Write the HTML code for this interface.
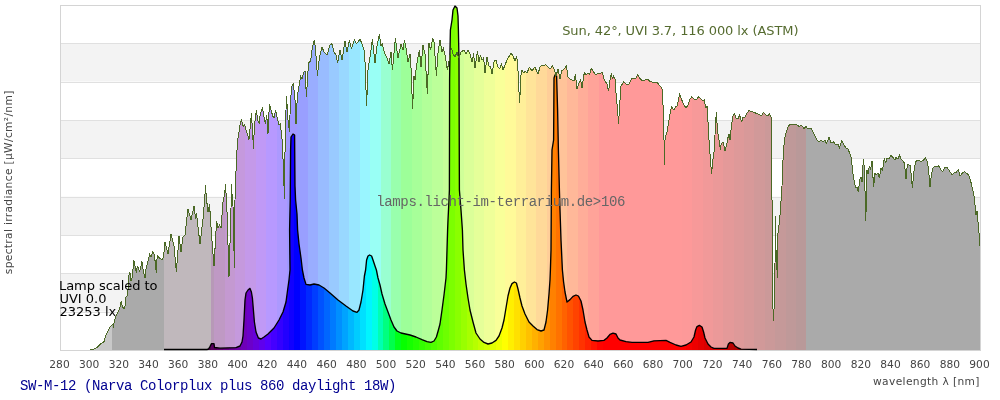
<!DOCTYPE html>
<html><head><meta charset="utf-8"><title>Spectrum SW-M-12</title>
<style>html,body{margin:0;padding:0;background:#fff}body{width:1000px;height:400px;overflow:hidden}</style></head>
<body>
<svg width="1000" height="400" viewBox="0 0 1000 400" style="display:block">
<rect width="1000" height="400" fill="#fff"/>
<rect x="60" y="5.00" width="920" height="38.33" fill="#ffffff"/>
<rect x="60" y="43.33" width="920" height="38.33" fill="#f3f3f3"/>
<rect x="60" y="81.67" width="920" height="38.33" fill="#ffffff"/>
<rect x="60" y="120.00" width="920" height="38.33" fill="#f3f3f3"/>
<rect x="60" y="158.33" width="920" height="38.33" fill="#ffffff"/>
<rect x="60" y="196.67" width="920" height="38.33" fill="#f3f3f3"/>
<rect x="60" y="235.00" width="920" height="38.33" fill="#ffffff"/>
<rect x="60" y="273.33" width="920" height="38.33" fill="#f3f3f3"/>
<rect x="60" y="311.67" width="920" height="38.33" fill="#ffffff"/>
<line x1="60" y1="43.5" x2="980" y2="43.5" stroke="#e0e0e0" stroke-width="1"/>
<line x1="60" y1="82.5" x2="980" y2="82.5" stroke="#e0e0e0" stroke-width="1"/>
<line x1="60" y1="120.5" x2="980" y2="120.5" stroke="#e0e0e0" stroke-width="1"/>
<line x1="60" y1="158.5" x2="980" y2="158.5" stroke="#e0e0e0" stroke-width="1"/>
<line x1="60" y1="197.5" x2="980" y2="197.5" stroke="#e0e0e0" stroke-width="1"/>
<line x1="60" y1="235.5" x2="980" y2="235.5" stroke="#e0e0e0" stroke-width="1"/>
<line x1="60" y1="273.5" x2="980" y2="273.5" stroke="#e0e0e0" stroke-width="1"/>
<line x1="60" y1="312.5" x2="980" y2="312.5" stroke="#e0e0e0" stroke-width="1"/>
<rect x="60.5" y="5.5" width="920" height="345" fill="none" stroke="#d4d4d4" stroke-width="1"/>
<defs><clipPath id="cs"><polygon points="89.7,350.0 92.8,349.8 97.0,347.6 100.6,344.0 104.2,341.4 105.4,336.8 106.6,333.8 108.4,330.2 110.2,326.6 111.6,325.4 112.8,324.2 113.6,327.2 114.4,320.0 116.0,316.4 117.4,313.4 118.6,311.0 119.8,308.0 120.6,303.2 121.4,301.5 122.2,306.2 124.0,309.2 125.2,305.6 126.0,297.0 127.0,295.8 128.0,289.8 128.4,279.0 129.4,272.4 130.6,274.8 131.0,280.8 132.0,277.8 133.0,269.4 133.8,260.0 134.6,263.4 135.4,268.2 136.4,273.0 137.2,266.4 138.4,268.2 139.6,271.8 140.8,267.0 142.0,261.6 143.2,270.6 144.4,276.0 145.0,277.8 146.0,269.4 147.4,263.4 148.6,258.6 149.6,254.0 151.0,257.0 153.0,251.6 154.6,256.0 155.6,267.0 156.4,273.0 157.0,258.6 157.6,256.0 159.6,258.0 162.4,260.0 163.6,256.0 165.0,242.0 168.0,254.0 171.0,234.0 174.0,246.0 176.4,272.0 179.0,236.0 181.0,252.0 183.0,237.0 185.0,235.0 188.0,209.0 191.0,220.0 194.0,206.0 195.6,219.0 196.4,213.0 200.0,244.0 203.0,219.0 204.6,200.0 205.5,186.0 206.6,200.0 208.0,212.0 209.6,205.0 211.6,236.0 214.0,266.0 216.6,221.0 218.0,228.0 219.6,225.0 221.0,228.0 222.0,215.0 223.0,202.0 224.5,195.0 225.5,185.0 226.5,200.0 227.0,212.0 229.0,277.0 230.4,230.0 231.0,208.0 231.5,185.0 232.4,200.0 233.0,206.0 234.4,268.0 235.0,200.0 235.5,172.0 236.4,169.6 237.0,150.0 238.0,138.0 238.5,135.0 240.0,125.0 241.5,119.5 242.5,124.0 243.5,127.0 244.5,124.5 246.0,130.0 248.0,136.0 248.8,140.0 249.5,135.0 250.5,123.0 251.5,114.0 252.0,123.0 252.8,135.0 253.4,149.0 254.0,135.0 254.8,123.0 255.5,116.0 256.5,111.0 257.2,116.5 258.0,121.0 259.2,123.5 260.0,116.0 261.2,111.0 262.5,108.0 263.5,114.0 264.5,119.0 265.5,124.0 266.5,115.5 267.2,120.0 268.0,134.0 268.5,120.0 269.5,105.0 270.5,108.0 271.5,112.0 273.0,116.5 274.0,118.0 275.5,111.0 276.5,114.0 277.5,119.0 278.5,123.0 279.2,125.0 280.2,123.5 281.0,130.0 281.8,135.0 282.6,150.0 283.6,172.0 284.4,199.0 284.8,172.0 285.2,135.0 285.5,123.0 286.5,97.0 287.2,107.0 288.0,120.0 288.7,125.0 289.5,132.0 290.0,115.0 290.5,100.0 292.0,86.0 293.4,83.6 295.0,100.0 296.0,124.0 297.4,95.0 299.0,86.0 300.6,76.0 302.0,79.0 303.4,73.0 305.0,71.0 306.5,97.0 307.4,80.0 308.6,63.0 310.6,61.0 312.6,46.0 314.4,40.0 315.6,50.0 317.4,76.0 319.4,57.0 322.0,47.0 324.0,52.0 327.0,55.0 330.0,45.0 332.0,43.6 334.0,52.0 336.0,55.0 337.6,63.0 340.0,50.0 342.0,60.0 345.0,41.0 347.0,52.0 349.4,40.0 351.4,49.0 354.4,39.4 356.4,44.0 360.0,39.0 362.0,44.0 364.0,50.0 365.0,62.0 366.6,106.0 368.0,70.0 370.0,57.0 372.4,39.4 375.0,63.0 377.0,46.0 379.4,34.4 381.0,46.0 382.4,44.0 384.4,53.0 387.0,58.0 389.0,64.0 391.0,52.0 392.4,70.0 395.4,38.4 398.0,58.0 401.0,44.0 403.0,50.0 404.4,40.0 406.0,48.0 408.0,62.0 410.0,54.0 411.0,68.0 412.6,109.0 414.0,76.0 415.0,80.0 416.0,70.0 418.0,57.0 419.4,50.0 421.0,67.0 423.0,45.0 425.0,54.0 427.4,94.0 429.0,43.0 430.6,50.0 432.6,38.4 434.0,42.0 436.4,76.0 438.0,53.0 440.0,40.0 442.0,52.0 443.4,48.0 445.0,55.0 447.4,70.0 450.0,55.0 451.4,48.0 453.0,54.0 455.0,57.0 457.0,52.0 458.6,58.0 461.0,52.0 464.0,50.0 466.0,54.0 468.0,50.0 470.0,54.0 472.0,62.0 473.6,54.0 475.0,68.0 477.4,51.0 479.0,62.0 480.4,55.0 482.0,60.0 483.6,58.0 485.0,73.0 487.0,57.0 489.0,66.0 490.6,67.0 492.0,74.0 494.4,60.0 496.0,60.0 498.0,67.0 499.6,69.0 501.4,64.0 503.0,70.0 507.0,60.0 511.0,53.0 513.0,56.0 515.0,61.0 516.6,57.0 517.6,62.0 518.4,80.0 519.6,103.0 521.0,75.0 522.0,70.0 523.6,73.0 525.0,71.0 527.0,73.0 529.4,67.0 532.0,71.0 535.0,67.0 537.0,72.0 538.0,74.0 540.0,67.0 542.0,65.0 544.0,66.0 545.6,64.4 548.0,67.0 550.0,69.0 552.4,66.0 554.4,70.0 556.0,76.0 558.0,69.0 560.0,79.0 561.6,71.0 564.0,69.0 566.4,66.0 568.0,77.0 570.0,79.0 572.0,80.0 574.0,81.0 575.4,74.0 577.0,89.0 579.0,83.0 580.6,80.0 582.0,88.0 584.4,72.0 586.0,75.0 588.0,73.0 589.6,75.0 591.4,68.0 593.6,72.0 595.6,75.0 598.0,73.0 600.0,74.0 602.0,72.0 604.4,80.0 607.0,84.0 608.6,91.0 610.0,80.0 611.4,73.0 612.4,79.0 613.6,76.0 615.0,79.0 616.4,98.0 617.6,110.0 618.6,123.6 619.6,106.0 621.0,86.0 623.6,82.0 627.0,85.0 629.0,84.0 631.6,78.4 634.0,79.0 636.0,78.0 637.6,74.4 640.0,78.4 642.4,81.0 645.0,80.0 648.0,79.6 650.0,81.6 652.4,82.0 655.0,83.0 657.4,82.4 659.0,85.0 661.0,87.0 662.4,90.0 663.2,110.0 664.0,140.0 664.4,165.0 665.0,140.0 665.6,136.0 667.0,132.0 669.0,120.0 670.4,112.0 671.6,107.0 673.6,110.0 675.6,107.0 677.0,106.0 678.4,100.0 679.6,93.6 681.0,98.0 683.0,103.0 685.6,107.6 687.6,106.0 689.6,100.0 691.4,97.0 694.0,99.0 696.0,100.0 698.4,97.0 701.0,99.0 703.0,101.0 704.4,100.0 705.6,108.0 707.0,106.0 708.0,122.0 709.0,140.0 710.4,160.0 711.6,174.0 712.8,160.0 714.0,152.0 715.0,135.0 715.4,126.0 716.4,112.0 717.4,130.0 719.0,140.0 720.4,150.0 721.0,145.0 722.0,143.0 723.0,142.0 724.4,147.0 725.0,151.0 726.0,147.0 727.0,143.0 727.6,139.0 729.0,134.0 730.0,140.0 731.6,124.0 733.0,116.0 734.4,113.0 736.0,118.0 738.0,119.0 739.6,115.0 741.6,122.0 743.0,117.0 745.0,117.0 747.0,113.0 749.0,110.6 752.0,111.6 754.0,112.4 757.0,113.6 760.0,115.0 762.0,115.0 763.6,112.4 765.6,115.0 767.6,115.6 769.6,114.0 771.0,117.0 771.6,130.0 772.0,200.0 772.6,300.0 773.6,321.0 774.4,298.0 775.0,265.0 775.4,216.0 775.8,262.0 776.6,250.0 777.2,278.0 777.8,235.0 779.6,220.0 780.4,210.0 782.0,186.0 783.0,160.0 784.4,139.0 786.0,133.0 788.0,127.0 790.0,124.4 793.0,124.0 796.4,124.4 799.0,126.4 801.6,125.6 804.0,128.4 806.0,126.4 808.0,129.0 811.0,128.4 814.0,134.0 817.0,140.0 819.0,141.6 821.0,140.0 823.0,141.6 825.0,140.0 826.4,144.0 829.0,137.0 831.0,143.0 833.6,142.0 836.0,145.0 838.0,144.0 839.6,148.0 841.6,140.4 844.0,145.0 846.0,148.0 848.0,149.0 850.0,154.0 851.4,158.0 852.4,170.0 854.0,180.0 855.6,188.0 857.0,187.0 858.4,192.0 859.6,180.0 861.0,177.0 862.0,182.0 863.4,159.0 864.4,168.0 865.8,221.0 867.0,170.0 868.0,174.0 869.4,166.0 870.4,170.0 872.0,161.0 873.6,187.0 875.0,173.0 876.4,175.0 878.0,173.0 879.4,178.0 881.0,168.0 882.4,171.0 884.4,158.0 885.6,163.0 887.0,158.0 889.0,159.0 891.0,155.6 893.0,157.6 895.0,160.0 896.0,157.6 898.0,159.0 899.4,155.0 901.0,159.0 903.0,161.0 904.4,163.0 906.0,179.0 907.4,164.0 909.0,165.0 910.4,165.0 911.4,178.0 912.4,188.0 913.6,174.0 915.6,161.6 918.0,160.0 920.0,161.0 922.4,161.0 925.4,158.0 927.4,161.6 928.6,170.0 930.0,187.0 931.4,174.0 933.0,168.0 935.0,166.0 937.0,167.0 938.4,165.6 940.6,169.0 942.4,172.0 944.4,168.0 947.0,167.6 949.0,170.0 952.0,175.0 954.0,173.0 956.0,172.4 958.4,169.6 960.0,176.0 962.4,173.0 964.4,171.6 967.0,173.6 968.8,175.0 971.0,182.5 973.8,194.0 975.0,205.0 976.0,215.0 977.0,211.0 978.0,222.0 978.8,228.0 979.5,245.0 980.0,246.0 980.0,350.0 89.7,350.0"/></clipPath><clipPath id="cl"><polygon points="164.0,349.5 207.0,349.5 208.5,349.0 210.0,346.5 211.5,343.6 214.0,343.6 214.5,347.5 220.0,348.2 236.0,347.6 240.0,346.0 242.0,342.0 243.0,336.0 244.0,320.0 245.0,300.0 246.0,293.0 248.0,290.0 250.0,288.4 251.4,292.0 252.4,298.0 253.4,310.0 254.4,322.0 256.0,332.0 258.4,338.0 261.0,339.0 264.0,337.0 268.0,334.0 274.0,328.0 279.0,320.0 283.0,312.0 286.0,302.0 287.6,290.0 289.0,280.0 290.0,270.0 289.6,230.0 290.2,200.0 290.6,150.0 291.0,137.0 293.0,134.0 294.6,135.0 295.0,186.0 295.6,200.0 297.0,214.0 297.6,230.0 299.0,244.0 301.0,258.0 302.4,270.0 304.0,278.0 306.0,284.4 310.0,285.0 314.0,284.0 319.0,285.0 324.0,288.0 330.0,293.0 338.0,300.0 346.0,306.0 353.0,311.0 357.0,312.4 359.0,310.0 361.0,302.0 363.0,290.0 364.4,276.0 365.6,270.0 366.0,266.0 366.6,260.0 368.0,256.0 369.6,255.0 371.6,256.0 373.0,260.0 375.0,266.0 376.4,270.0 378.0,278.0 380.0,285.0 382.0,294.0 385.0,304.0 388.0,312.0 391.0,320.0 394.0,327.0 397.0,331.0 401.0,333.0 410.0,335.0 416.0,337.0 422.0,339.6 427.0,341.6 431.0,342.4 434.0,341.0 436.4,337.0 438.4,330.0 440.0,324.0 442.0,310.0 444.0,295.0 446.0,278.0 446.4,270.0 447.0,250.0 447.6,230.0 448.0,220.0 449.0,200.0 449.4,190.0 449.6,80.0 450.0,50.0 450.4,30.0 452.0,20.0 453.0,10.0 455.0,6.0 457.0,8.0 458.0,16.0 458.4,30.0 459.0,60.0 459.4,190.0 461.0,210.0 462.4,230.0 463.0,250.0 464.4,270.0 466.0,284.0 468.0,298.0 470.0,310.0 473.0,322.0 476.0,333.0 480.0,339.0 484.0,342.4 488.0,344.0 492.0,343.0 496.0,340.4 499.0,336.0 502.0,328.0 504.0,320.0 506.0,308.0 508.0,296.0 510.0,288.0 512.0,283.6 514.4,282.0 516.4,283.0 518.0,289.0 520.0,298.0 522.0,306.0 525.0,314.0 529.0,322.0 533.0,326.0 537.0,329.6 541.0,331.0 544.0,330.0 546.0,322.0 547.6,310.0 549.0,294.0 550.0,280.0 550.4,270.0 551.0,250.0 551.4,190.0 552.0,150.0 553.6,140.0 553.8,110.0 554.0,78.0 555.0,75.0 556.6,76.0 557.6,110.0 558.4,150.0 559.4,190.0 560.0,210.0 561.0,240.0 562.4,270.0 563.6,282.0 565.0,292.0 567.0,302.0 570.0,299.6 573.0,296.4 576.0,295.0 578.4,296.0 581.0,301.0 583.0,310.0 585.0,322.0 587.0,330.0 589.0,337.0 592.0,340.4 598.0,341.0 604.0,340.4 607.0,338.0 610.0,334.4 613.0,333.2 616.0,334.0 618.0,338.0 620.0,340.0 626.0,341.6 632.0,342.4 648.0,342.4 654.0,340.8 666.0,340.4 670.0,342.4 676.0,345.0 681.0,346.4 686.0,345.0 691.0,342.0 694.0,337.0 695.6,330.0 697.0,326.6 699.4,325.4 702.0,327.0 703.6,332.0 705.0,338.0 708.0,344.0 711.0,347.0 714.0,348.4 727.0,348.4 728.4,344.0 730.0,342.4 733.0,343.0 735.0,346.0 738.0,348.0 741.0,349.2 757.0,349.5 757.0,350.0 164.0,350.0"/></clipPath></defs>
<g clip-path="url(#cs)" shape-rendering="crispEdges">
<rect x="60.00" y="5" width="51.94" height="345" fill="#c8c8c8"/>
<rect x="111.94" y="5" width="51.94" height="345" fill="#aaaaaa"/>
<rect x="163.87" y="5" width="47.48" height="345" fill="#c0b8bc"/>
<rect x="211.35" y="5" width="3.47" height="345" fill="#b799b7"/>
<rect x="214.32" y="5" width="10.89" height="345" fill="#bf99c4"/>
<rect x="224.71" y="5" width="10.89" height="345" fill="#c499d1"/>
<rect x="235.10" y="5" width="10.89" height="345" fill="#c599dd"/>
<rect x="245.48" y="5" width="10.89" height="345" fill="#c499e9"/>
<rect x="255.87" y="5" width="10.89" height="345" fill="#c099f6"/>
<rect x="266.26" y="5" width="10.89" height="345" fill="#b799ff"/>
<rect x="276.65" y="5" width="10.89" height="345" fill="#ac99ff"/>
<rect x="287.03" y="5" width="10.89" height="345" fill="#a099ff"/>
<rect x="297.42" y="5" width="10.89" height="345" fill="#999fff"/>
<rect x="307.81" y="5" width="10.89" height="345" fill="#99adff"/>
<rect x="318.19" y="5" width="10.89" height="345" fill="#99bcff"/>
<rect x="328.58" y="5" width="10.89" height="345" fill="#99caff"/>
<rect x="338.97" y="5" width="10.89" height="345" fill="#99d8ff"/>
<rect x="349.35" y="5" width="10.89" height="345" fill="#99e7ff"/>
<rect x="359.74" y="5" width="10.89" height="345" fill="#99f5ff"/>
<rect x="370.13" y="5" width="10.89" height="345" fill="#99fff5"/>
<rect x="380.52" y="5" width="10.89" height="345" fill="#99ffd1"/>
<rect x="390.90" y="5" width="10.89" height="345" fill="#99ffad"/>
<rect x="401.29" y="5" width="10.89" height="345" fill="#9dff99"/>
<rect x="411.68" y="5" width="10.89" height="345" fill="#a7ff99"/>
<rect x="422.06" y="5" width="10.89" height="345" fill="#b2ff99"/>
<rect x="432.45" y="5" width="10.89" height="345" fill="#bcff99"/>
<rect x="442.84" y="5" width="10.89" height="345" fill="#c6ff99"/>
<rect x="453.23" y="5" width="10.89" height="345" fill="#d0ff99"/>
<rect x="463.61" y="5" width="10.89" height="345" fill="#dbff99"/>
<rect x="474.00" y="5" width="10.89" height="345" fill="#e5ff99"/>
<rect x="484.39" y="5" width="10.89" height="345" fill="#efff99"/>
<rect x="494.77" y="5" width="10.89" height="345" fill="#f9ff99"/>
<rect x="505.16" y="5" width="10.89" height="345" fill="#fffa99"/>
<rect x="515.55" y="5" width="10.89" height="345" fill="#ffef99"/>
<rect x="525.94" y="5" width="10.89" height="345" fill="#ffe499"/>
<rect x="536.32" y="5" width="10.89" height="345" fill="#ffd999"/>
<rect x="546.71" y="5" width="10.89" height="345" fill="#ffce99"/>
<rect x="557.10" y="5" width="10.89" height="345" fill="#ffc399"/>
<rect x="567.48" y="5" width="10.89" height="345" fill="#ffb899"/>
<rect x="577.87" y="5" width="10.89" height="345" fill="#ffad99"/>
<rect x="588.26" y="5" width="10.89" height="345" fill="#ffa399"/>
<rect x="598.65" y="5" width="10.89" height="345" fill="#ff9999"/>
<rect x="609.03" y="5" width="10.89" height="345" fill="#ff9999"/>
<rect x="619.42" y="5" width="10.89" height="345" fill="#ff9999"/>
<rect x="629.81" y="5" width="10.89" height="345" fill="#ff9999"/>
<rect x="640.19" y="5" width="10.89" height="345" fill="#ff9999"/>
<rect x="650.58" y="5" width="10.89" height="345" fill="#ff9999"/>
<rect x="660.97" y="5" width="10.89" height="345" fill="#ff9999"/>
<rect x="671.35" y="5" width="10.89" height="345" fill="#ff9999"/>
<rect x="681.74" y="5" width="10.89" height="345" fill="#fd9999"/>
<rect x="692.13" y="5" width="10.89" height="345" fill="#f79999"/>
<rect x="702.52" y="5" width="10.89" height="345" fill="#f19999"/>
<rect x="712.90" y="5" width="10.89" height="345" fill="#eb9999"/>
<rect x="723.29" y="5" width="10.89" height="345" fill="#e49999"/>
<rect x="733.68" y="5" width="10.89" height="345" fill="#de9999"/>
<rect x="744.06" y="5" width="10.89" height="345" fill="#d89999"/>
<rect x="754.45" y="5" width="10.89" height="345" fill="#d19999"/>
<rect x="764.84" y="5" width="10.89" height="345" fill="#cb9999"/>
<rect x="775.23" y="5" width="10.89" height="345" fill="#c59999"/>
<rect x="785.61" y="5" width="10.89" height="345" fill="#bf9999"/>
<rect x="796.00" y="5" width="10.89" height="345" fill="#b99999"/>
<rect x="806.39" y="5" width="173.61" height="345" fill="#aaaaaa"/>
</g>
<g clip-path="url(#cl)" shape-rendering="crispEdges">
<rect x="163.87" y="5" width="41.55" height="345" fill="#000000"/>
<rect x="205.42" y="5" width="6.44" height="345" fill="#4c004c"/>
<rect x="211.35" y="5" width="6.44" height="345" fill="#58005e"/>
<rect x="217.29" y="5" width="6.44" height="345" fill="#610070"/>
<rect x="223.23" y="5" width="6.44" height="345" fill="#680082"/>
<rect x="229.16" y="5" width="6.44" height="345" fill="#6c0094"/>
<rect x="235.10" y="5" width="6.44" height="345" fill="#6e00a6"/>
<rect x="241.03" y="5" width="6.44" height="345" fill="#6e00b8"/>
<rect x="246.97" y="5" width="6.44" height="345" fill="#6b00c9"/>
<rect x="252.90" y="5" width="6.44" height="345" fill="#6600db"/>
<rect x="258.84" y="5" width="6.44" height="345" fill="#5f00ed"/>
<rect x="264.77" y="5" width="6.44" height="345" fill="#5500ff"/>
<rect x="270.71" y="5" width="6.44" height="345" fill="#4400ff"/>
<rect x="276.65" y="5" width="6.44" height="345" fill="#3300ff"/>
<rect x="282.58" y="5" width="6.44" height="345" fill="#2200ff"/>
<rect x="288.52" y="5" width="6.44" height="345" fill="#1100ff"/>
<rect x="294.45" y="5" width="6.44" height="345" fill="#0000ff"/>
<rect x="300.39" y="5" width="6.44" height="345" fill="#0014ff"/>
<rect x="306.32" y="5" width="6.44" height="345" fill="#0029ff"/>
<rect x="312.26" y="5" width="6.44" height="345" fill="#003dff"/>
<rect x="318.19" y="5" width="6.44" height="345" fill="#0052ff"/>
<rect x="324.13" y="5" width="6.44" height="345" fill="#0066ff"/>
<rect x="330.06" y="5" width="6.44" height="345" fill="#007aff"/>
<rect x="336.00" y="5" width="6.44" height="345" fill="#008fff"/>
<rect x="341.94" y="5" width="6.44" height="345" fill="#00a3ff"/>
<rect x="347.87" y="5" width="6.44" height="345" fill="#00b8ff"/>
<rect x="353.81" y="5" width="6.44" height="345" fill="#00ccff"/>
<rect x="359.74" y="5" width="6.44" height="345" fill="#00e0ff"/>
<rect x="365.68" y="5" width="6.44" height="345" fill="#00f5ff"/>
<rect x="371.61" y="5" width="6.44" height="345" fill="#00ffe6"/>
<rect x="377.55" y="5" width="6.44" height="345" fill="#00ffb2"/>
<rect x="383.48" y="5" width="6.44" height="345" fill="#00ff80"/>
<rect x="389.42" y="5" width="6.44" height="345" fill="#00ff4c"/>
<rect x="395.35" y="5" width="6.44" height="345" fill="#00ff1a"/>
<rect x="401.29" y="5" width="6.44" height="345" fill="#07ff00"/>
<rect x="407.23" y="5" width="6.44" height="345" fill="#16ff00"/>
<rect x="413.16" y="5" width="6.44" height="345" fill="#24ff00"/>
<rect x="419.10" y="5" width="6.44" height="345" fill="#33ff00"/>
<rect x="425.03" y="5" width="6.44" height="345" fill="#42ff00"/>
<rect x="430.97" y="5" width="6.44" height="345" fill="#50ff00"/>
<rect x="436.90" y="5" width="6.44" height="345" fill="#5fff00"/>
<rect x="442.84" y="5" width="6.44" height="345" fill="#6dff00"/>
<rect x="448.77" y="5" width="6.44" height="345" fill="#7cff00"/>
<rect x="454.71" y="5" width="6.44" height="345" fill="#8aff00"/>
<rect x="460.65" y="5" width="6.44" height="345" fill="#99ff00"/>
<rect x="466.58" y="5" width="6.44" height="345" fill="#a8ff00"/>
<rect x="472.52" y="5" width="6.44" height="345" fill="#b6ff00"/>
<rect x="478.45" y="5" width="6.44" height="345" fill="#c5ff00"/>
<rect x="484.39" y="5" width="6.44" height="345" fill="#d3ff00"/>
<rect x="490.32" y="5" width="6.44" height="345" fill="#e2ff00"/>
<rect x="496.26" y="5" width="6.44" height="345" fill="#f0ff00"/>
<rect x="502.19" y="5" width="6.44" height="345" fill="#ffff00"/>
<rect x="508.13" y="5" width="6.44" height="345" fill="#ffef00"/>
<rect x="514.06" y="5" width="6.44" height="345" fill="#ffe000"/>
<rect x="520.00" y="5" width="6.44" height="345" fill="#ffd000"/>
<rect x="525.94" y="5" width="6.44" height="345" fill="#ffc000"/>
<rect x="531.87" y="5" width="6.44" height="345" fill="#ffb100"/>
<rect x="537.81" y="5" width="6.44" height="345" fill="#ffa100"/>
<rect x="543.74" y="5" width="6.44" height="345" fill="#ff9100"/>
<rect x="549.68" y="5" width="6.44" height="345" fill="#ff8100"/>
<rect x="555.61" y="5" width="6.44" height="345" fill="#ff7200"/>
<rect x="561.55" y="5" width="6.44" height="345" fill="#ff6200"/>
<rect x="567.48" y="5" width="6.44" height="345" fill="#ff5200"/>
<rect x="573.42" y="5" width="6.44" height="345" fill="#ff4300"/>
<rect x="579.35" y="5" width="6.44" height="345" fill="#ff3300"/>
<rect x="585.29" y="5" width="6.44" height="345" fill="#ff2300"/>
<rect x="591.23" y="5" width="6.44" height="345" fill="#ff1400"/>
<rect x="597.16" y="5" width="6.44" height="345" fill="#ff0400"/>
<rect x="603.10" y="5" width="6.44" height="345" fill="#ff0000"/>
<rect x="609.03" y="5" width="6.44" height="345" fill="#ff0000"/>
<rect x="614.97" y="5" width="6.44" height="345" fill="#ff0000"/>
<rect x="620.90" y="5" width="6.44" height="345" fill="#ff0000"/>
<rect x="626.84" y="5" width="6.44" height="345" fill="#ff0000"/>
<rect x="632.77" y="5" width="6.44" height="345" fill="#ff0000"/>
<rect x="638.71" y="5" width="6.44" height="345" fill="#ff0000"/>
<rect x="644.65" y="5" width="6.44" height="345" fill="#ff0000"/>
<rect x="650.58" y="5" width="6.44" height="345" fill="#ff0000"/>
<rect x="656.52" y="5" width="6.44" height="345" fill="#ff0000"/>
<rect x="662.45" y="5" width="6.44" height="345" fill="#ff0000"/>
<rect x="668.39" y="5" width="6.44" height="345" fill="#ff0000"/>
<rect x="674.32" y="5" width="6.44" height="345" fill="#ff0000"/>
<rect x="680.26" y="5" width="6.44" height="345" fill="#ff0000"/>
<rect x="686.19" y="5" width="6.44" height="345" fill="#f60000"/>
<rect x="692.13" y="5" width="6.44" height="345" fill="#ed0000"/>
<rect x="698.06" y="5" width="6.44" height="345" fill="#e40000"/>
<rect x="704.00" y="5" width="6.44" height="345" fill="#db0000"/>
<rect x="709.94" y="5" width="6.44" height="345" fill="#d20000"/>
<rect x="715.87" y="5" width="6.44" height="345" fill="#c90000"/>
<rect x="721.81" y="5" width="6.44" height="345" fill="#c10000"/>
<rect x="727.74" y="5" width="6.44" height="345" fill="#b80000"/>
<rect x="733.68" y="5" width="6.44" height="345" fill="#af0000"/>
<rect x="739.61" y="5" width="6.44" height="345" fill="#a60000"/>
<rect x="745.55" y="5" width="6.44" height="345" fill="#9d0000"/>
<rect x="751.48" y="5" width="6.44" height="345" fill="#940000"/>
<rect x="757.42" y="5" width="6.44" height="345" fill="#8b0000"/>
<rect x="763.35" y="5" width="6.44" height="345" fill="#820000"/>
<rect x="769.29" y="5" width="6.44" height="345" fill="#790000"/>
<rect x="775.23" y="5" width="6.44" height="345" fill="#700000"/>
<rect x="781.16" y="5" width="6.44" height="345" fill="#670000"/>
<rect x="787.10" y="5" width="6.44" height="345" fill="#5e0000"/>
<rect x="793.03" y="5" width="6.44" height="345" fill="#550000"/>
<rect x="798.97" y="5" width="6.44" height="345" fill="#4c0000"/>
<rect x="804.90" y="5" width="1.98" height="345" fill="#4c0000"/>
</g>
<polyline points="164.0,349.5 207.0,349.5 208.5,349.0 210.0,346.5 211.5,343.6 214.0,343.6 214.5,347.5 220.0,348.2 236.0,347.6 240.0,346.0 242.0,342.0 243.0,336.0 244.0,320.0 245.0,300.0 246.0,293.0 248.0,290.0 250.0,288.4 251.4,292.0 252.4,298.0 253.4,310.0 254.4,322.0 256.0,332.0 258.4,338.0 261.0,339.0 264.0,337.0 268.0,334.0 274.0,328.0 279.0,320.0 283.0,312.0 286.0,302.0 287.6,290.0 289.0,280.0 290.0,270.0 289.6,230.0 290.2,200.0 290.6,150.0 291.0,137.0 293.0,134.0 294.6,135.0 295.0,186.0 295.6,200.0 297.0,214.0 297.6,230.0 299.0,244.0 301.0,258.0 302.4,270.0 304.0,278.0 306.0,284.4 310.0,285.0 314.0,284.0 319.0,285.0 324.0,288.0 330.0,293.0 338.0,300.0 346.0,306.0 353.0,311.0 357.0,312.4 359.0,310.0 361.0,302.0 363.0,290.0 364.4,276.0 365.6,270.0 366.0,266.0 366.6,260.0 368.0,256.0 369.6,255.0 371.6,256.0 373.0,260.0 375.0,266.0 376.4,270.0 378.0,278.0 380.0,285.0 382.0,294.0 385.0,304.0 388.0,312.0 391.0,320.0 394.0,327.0 397.0,331.0 401.0,333.0 410.0,335.0 416.0,337.0 422.0,339.6 427.0,341.6 431.0,342.4 434.0,341.0 436.4,337.0 438.4,330.0 440.0,324.0 442.0,310.0 444.0,295.0 446.0,278.0 446.4,270.0 447.0,250.0 447.6,230.0 448.0,220.0 449.0,200.0 449.4,190.0 449.6,80.0 450.0,50.0 450.4,30.0 452.0,20.0 453.0,10.0 455.0,6.0 457.0,8.0 458.0,16.0 458.4,30.0 459.0,60.0 459.4,190.0 461.0,210.0 462.4,230.0 463.0,250.0 464.4,270.0 466.0,284.0 468.0,298.0 470.0,310.0 473.0,322.0 476.0,333.0 480.0,339.0 484.0,342.4 488.0,344.0 492.0,343.0 496.0,340.4 499.0,336.0 502.0,328.0 504.0,320.0 506.0,308.0 508.0,296.0 510.0,288.0 512.0,283.6 514.4,282.0 516.4,283.0 518.0,289.0 520.0,298.0 522.0,306.0 525.0,314.0 529.0,322.0 533.0,326.0 537.0,329.6 541.0,331.0 544.0,330.0 546.0,322.0 547.6,310.0 549.0,294.0 550.0,280.0 550.4,270.0 551.0,250.0 551.4,190.0 552.0,150.0 553.6,140.0 553.8,110.0 554.0,78.0 555.0,75.0 556.6,76.0 557.6,110.0 558.4,150.0 559.4,190.0 560.0,210.0 561.0,240.0 562.4,270.0 563.6,282.0 565.0,292.0 567.0,302.0 570.0,299.6 573.0,296.4 576.0,295.0 578.4,296.0 581.0,301.0 583.0,310.0 585.0,322.0 587.0,330.0 589.0,337.0 592.0,340.4 598.0,341.0 604.0,340.4 607.0,338.0 610.0,334.4 613.0,333.2 616.0,334.0 618.0,338.0 620.0,340.0 626.0,341.6 632.0,342.4 648.0,342.4 654.0,340.8 666.0,340.4 670.0,342.4 676.0,345.0 681.0,346.4 686.0,345.0 691.0,342.0 694.0,337.0 695.6,330.0 697.0,326.6 699.4,325.4 702.0,327.0 703.6,332.0 705.0,338.0 708.0,344.0 711.0,347.0 714.0,348.4 727.0,348.4 728.4,344.0 730.0,342.4 733.0,343.0 735.0,346.0 738.0,348.0 741.0,349.2 757.0,349.5" fill="none" stroke="#000" stroke-width="1.35" stroke-linejoin="round"/>
<polyline points="89.7,350.0 92.8,349.8 97.0,347.6 100.6,344.0 104.2,341.4 105.4,336.8 106.6,333.8 108.4,330.2 110.2,326.6 111.6,325.4 112.8,324.2 113.6,327.2 114.4,320.0 116.0,316.4 117.4,313.4 118.6,311.0 119.8,308.0 120.6,303.2 121.4,301.5 122.2,306.2 124.0,309.2 125.2,305.6 126.0,297.0 127.0,295.8 128.0,289.8 128.4,279.0 129.4,272.4 130.6,274.8 131.0,280.8 132.0,277.8 133.0,269.4 133.8,260.0 134.6,263.4 135.4,268.2 136.4,273.0 137.2,266.4 138.4,268.2 139.6,271.8 140.8,267.0 142.0,261.6 143.2,270.6 144.4,276.0 145.0,277.8 146.0,269.4 147.4,263.4 148.6,258.6 149.6,254.0 151.0,257.0 153.0,251.6 154.6,256.0 155.6,267.0 156.4,273.0 157.0,258.6 157.6,256.0 159.6,258.0 162.4,260.0 163.6,256.0 165.0,242.0 168.0,254.0 171.0,234.0 174.0,246.0 176.4,272.0 179.0,236.0 181.0,252.0 183.0,237.0 185.0,235.0 188.0,209.0 191.0,220.0 194.0,206.0 195.6,219.0 196.4,213.0 200.0,244.0 203.0,219.0 204.6,200.0 205.5,186.0 206.6,200.0 208.0,212.0 209.6,205.0 211.6,236.0 214.0,266.0 216.6,221.0 218.0,228.0 219.6,225.0 221.0,228.0 222.0,215.0 223.0,202.0 224.5,195.0 225.5,185.0 226.5,200.0 227.0,212.0 229.0,277.0 230.4,230.0 231.0,208.0 231.5,185.0 232.4,200.0 233.0,206.0 234.4,268.0 235.0,200.0 235.5,172.0 236.4,169.6 237.0,150.0 238.0,138.0 238.5,135.0 240.0,125.0 241.5,119.5 242.5,124.0 243.5,127.0 244.5,124.5 246.0,130.0 248.0,136.0 248.8,140.0 249.5,135.0 250.5,123.0 251.5,114.0 252.0,123.0 252.8,135.0 253.4,149.0 254.0,135.0 254.8,123.0 255.5,116.0 256.5,111.0 257.2,116.5 258.0,121.0 259.2,123.5 260.0,116.0 261.2,111.0 262.5,108.0 263.5,114.0 264.5,119.0 265.5,124.0 266.5,115.5 267.2,120.0 268.0,134.0 268.5,120.0 269.5,105.0 270.5,108.0 271.5,112.0 273.0,116.5 274.0,118.0 275.5,111.0 276.5,114.0 277.5,119.0 278.5,123.0 279.2,125.0 280.2,123.5 281.0,130.0 281.8,135.0 282.6,150.0 283.6,172.0 284.4,199.0 284.8,172.0 285.2,135.0 285.5,123.0 286.5,97.0 287.2,107.0 288.0,120.0 288.7,125.0 289.5,132.0 290.0,115.0 290.5,100.0 292.0,86.0 293.4,83.6 295.0,100.0 296.0,124.0 297.4,95.0 299.0,86.0 300.6,76.0 302.0,79.0 303.4,73.0 305.0,71.0 306.5,97.0 307.4,80.0 308.6,63.0 310.6,61.0 312.6,46.0 314.4,40.0 315.6,50.0 317.4,76.0 319.4,57.0 322.0,47.0 324.0,52.0 327.0,55.0 330.0,45.0 332.0,43.6 334.0,52.0 336.0,55.0 337.6,63.0 340.0,50.0 342.0,60.0 345.0,41.0 347.0,52.0 349.4,40.0 351.4,49.0 354.4,39.4 356.4,44.0 360.0,39.0 362.0,44.0 364.0,50.0 365.0,62.0 366.6,106.0 368.0,70.0 370.0,57.0 372.4,39.4 375.0,63.0 377.0,46.0 379.4,34.4 381.0,46.0 382.4,44.0 384.4,53.0 387.0,58.0 389.0,64.0 391.0,52.0 392.4,70.0 395.4,38.4 398.0,58.0 401.0,44.0 403.0,50.0 404.4,40.0 406.0,48.0 408.0,62.0 410.0,54.0 411.0,68.0 412.6,109.0 414.0,76.0 415.0,80.0 416.0,70.0 418.0,57.0 419.4,50.0 421.0,67.0 423.0,45.0 425.0,54.0 427.4,94.0 429.0,43.0 430.6,50.0 432.6,38.4 434.0,42.0 436.4,76.0 438.0,53.0 440.0,40.0 442.0,52.0 443.4,48.0 445.0,55.0 447.4,70.0 450.0,55.0 451.4,48.0 453.0,54.0 455.0,57.0 457.0,52.0 458.6,58.0 461.0,52.0 464.0,50.0 466.0,54.0 468.0,50.0 470.0,54.0 472.0,62.0 473.6,54.0 475.0,68.0 477.4,51.0 479.0,62.0 480.4,55.0 482.0,60.0 483.6,58.0 485.0,73.0 487.0,57.0 489.0,66.0 490.6,67.0 492.0,74.0 494.4,60.0 496.0,60.0 498.0,67.0 499.6,69.0 501.4,64.0 503.0,70.0 507.0,60.0 511.0,53.0 513.0,56.0 515.0,61.0 516.6,57.0 517.6,62.0 518.4,80.0 519.6,103.0 521.0,75.0 522.0,70.0 523.6,73.0 525.0,71.0 527.0,73.0 529.4,67.0 532.0,71.0 535.0,67.0 537.0,72.0 538.0,74.0 540.0,67.0 542.0,65.0 544.0,66.0 545.6,64.4 548.0,67.0 550.0,69.0 552.4,66.0 554.4,70.0 556.0,76.0 558.0,69.0 560.0,79.0 561.6,71.0 564.0,69.0 566.4,66.0 568.0,77.0 570.0,79.0 572.0,80.0 574.0,81.0 575.4,74.0 577.0,89.0 579.0,83.0 580.6,80.0 582.0,88.0 584.4,72.0 586.0,75.0 588.0,73.0 589.6,75.0 591.4,68.0 593.6,72.0 595.6,75.0 598.0,73.0 600.0,74.0 602.0,72.0 604.4,80.0 607.0,84.0 608.6,91.0 610.0,80.0 611.4,73.0 612.4,79.0 613.6,76.0 615.0,79.0 616.4,98.0 617.6,110.0 618.6,123.6 619.6,106.0 621.0,86.0 623.6,82.0 627.0,85.0 629.0,84.0 631.6,78.4 634.0,79.0 636.0,78.0 637.6,74.4 640.0,78.4 642.4,81.0 645.0,80.0 648.0,79.6 650.0,81.6 652.4,82.0 655.0,83.0 657.4,82.4 659.0,85.0 661.0,87.0 662.4,90.0 663.2,110.0 664.0,140.0 664.4,165.0 665.0,140.0 665.6,136.0 667.0,132.0 669.0,120.0 670.4,112.0 671.6,107.0 673.6,110.0 675.6,107.0 677.0,106.0 678.4,100.0 679.6,93.6 681.0,98.0 683.0,103.0 685.6,107.6 687.6,106.0 689.6,100.0 691.4,97.0 694.0,99.0 696.0,100.0 698.4,97.0 701.0,99.0 703.0,101.0 704.4,100.0 705.6,108.0 707.0,106.0 708.0,122.0 709.0,140.0 710.4,160.0 711.6,174.0 712.8,160.0 714.0,152.0 715.0,135.0 715.4,126.0 716.4,112.0 717.4,130.0 719.0,140.0 720.4,150.0 721.0,145.0 722.0,143.0 723.0,142.0 724.4,147.0 725.0,151.0 726.0,147.0 727.0,143.0 727.6,139.0 729.0,134.0 730.0,140.0 731.6,124.0 733.0,116.0 734.4,113.0 736.0,118.0 738.0,119.0 739.6,115.0 741.6,122.0 743.0,117.0 745.0,117.0 747.0,113.0 749.0,110.6 752.0,111.6 754.0,112.4 757.0,113.6 760.0,115.0 762.0,115.0 763.6,112.4 765.6,115.0 767.6,115.6 769.6,114.0 771.0,117.0 771.6,130.0 772.0,200.0 772.6,300.0 773.6,321.0 774.4,298.0 775.0,265.0 775.4,216.0 775.8,262.0 776.6,250.0 777.2,278.0 777.8,235.0 779.6,220.0 780.4,210.0 782.0,186.0 783.0,160.0 784.4,139.0 786.0,133.0 788.0,127.0 790.0,124.4 793.0,124.0 796.4,124.4 799.0,126.4 801.6,125.6 804.0,128.4 806.0,126.4 808.0,129.0 811.0,128.4 814.0,134.0 817.0,140.0 819.0,141.6 821.0,140.0 823.0,141.6 825.0,140.0 826.4,144.0 829.0,137.0 831.0,143.0 833.6,142.0 836.0,145.0 838.0,144.0 839.6,148.0 841.6,140.4 844.0,145.0 846.0,148.0 848.0,149.0 850.0,154.0 851.4,158.0 852.4,170.0 854.0,180.0 855.6,188.0 857.0,187.0 858.4,192.0 859.6,180.0 861.0,177.0 862.0,182.0 863.4,159.0 864.4,168.0 865.8,221.0 867.0,170.0 868.0,174.0 869.4,166.0 870.4,170.0 872.0,161.0 873.6,187.0 875.0,173.0 876.4,175.0 878.0,173.0 879.4,178.0 881.0,168.0 882.4,171.0 884.4,158.0 885.6,163.0 887.0,158.0 889.0,159.0 891.0,155.6 893.0,157.6 895.0,160.0 896.0,157.6 898.0,159.0 899.4,155.0 901.0,159.0 903.0,161.0 904.4,163.0 906.0,179.0 907.4,164.0 909.0,165.0 910.4,165.0 911.4,178.0 912.4,188.0 913.6,174.0 915.6,161.6 918.0,160.0 920.0,161.0 922.4,161.0 925.4,158.0 927.4,161.6 928.6,170.0 930.0,187.0 931.4,174.0 933.0,168.0 935.0,166.0 937.0,167.0 938.4,165.6 940.6,169.0 942.4,172.0 944.4,168.0 947.0,167.6 949.0,170.0 952.0,175.0 954.0,173.0 956.0,172.4 958.4,169.6 960.0,176.0 962.4,173.0 964.4,171.6 967.0,173.6 968.8,175.0 971.0,182.5 973.8,194.0 975.0,205.0 976.0,215.0 977.0,211.0 978.0,222.0 978.8,228.0 979.5,245.0 980.0,246.0" fill="none" stroke="#4b6926" stroke-width="1" stroke-linejoin="round" shape-rendering="crispEdges"/>
<text x="59.5" y="367.7" font-size="10.67" text-anchor="middle" fill="#444" font-family="DejaVu Sans, Liberation Sans, sans-serif">280</text>
<text x="89.2" y="367.7" font-size="10.67" text-anchor="middle" fill="#444" font-family="DejaVu Sans, Liberation Sans, sans-serif">300</text>
<text x="118.9" y="367.7" font-size="10.67" text-anchor="middle" fill="#444" font-family="DejaVu Sans, Liberation Sans, sans-serif">320</text>
<text x="148.5" y="367.7" font-size="10.67" text-anchor="middle" fill="#444" font-family="DejaVu Sans, Liberation Sans, sans-serif">340</text>
<text x="178.2" y="367.7" font-size="10.67" text-anchor="middle" fill="#444" font-family="DejaVu Sans, Liberation Sans, sans-serif">360</text>
<text x="207.9" y="367.7" font-size="10.67" text-anchor="middle" fill="#444" font-family="DejaVu Sans, Liberation Sans, sans-serif">380</text>
<text x="237.6" y="367.7" font-size="10.67" text-anchor="middle" fill="#444" font-family="DejaVu Sans, Liberation Sans, sans-serif">400</text>
<text x="267.2" y="367.7" font-size="10.67" text-anchor="middle" fill="#444" font-family="DejaVu Sans, Liberation Sans, sans-serif">420</text>
<text x="296.9" y="367.7" font-size="10.67" text-anchor="middle" fill="#444" font-family="DejaVu Sans, Liberation Sans, sans-serif">440</text>
<text x="326.6" y="367.7" font-size="10.67" text-anchor="middle" fill="#444" font-family="DejaVu Sans, Liberation Sans, sans-serif">460</text>
<text x="356.3" y="367.7" font-size="10.67" text-anchor="middle" fill="#444" font-family="DejaVu Sans, Liberation Sans, sans-serif">480</text>
<text x="386.0" y="367.7" font-size="10.67" text-anchor="middle" fill="#444" font-family="DejaVu Sans, Liberation Sans, sans-serif">500</text>
<text x="415.6" y="367.7" font-size="10.67" text-anchor="middle" fill="#444" font-family="DejaVu Sans, Liberation Sans, sans-serif">520</text>
<text x="445.3" y="367.7" font-size="10.67" text-anchor="middle" fill="#444" font-family="DejaVu Sans, Liberation Sans, sans-serif">540</text>
<text x="475.0" y="367.7" font-size="10.67" text-anchor="middle" fill="#444" font-family="DejaVu Sans, Liberation Sans, sans-serif">560</text>
<text x="504.7" y="367.7" font-size="10.67" text-anchor="middle" fill="#444" font-family="DejaVu Sans, Liberation Sans, sans-serif">580</text>
<text x="534.3" y="367.7" font-size="10.67" text-anchor="middle" fill="#444" font-family="DejaVu Sans, Liberation Sans, sans-serif">600</text>
<text x="564.0" y="367.7" font-size="10.67" text-anchor="middle" fill="#444" font-family="DejaVu Sans, Liberation Sans, sans-serif">620</text>
<text x="593.7" y="367.7" font-size="10.67" text-anchor="middle" fill="#444" font-family="DejaVu Sans, Liberation Sans, sans-serif">640</text>
<text x="623.4" y="367.7" font-size="10.67" text-anchor="middle" fill="#444" font-family="DejaVu Sans, Liberation Sans, sans-serif">660</text>
<text x="653.0" y="367.7" font-size="10.67" text-anchor="middle" fill="#444" font-family="DejaVu Sans, Liberation Sans, sans-serif">680</text>
<text x="682.7" y="367.7" font-size="10.67" text-anchor="middle" fill="#444" font-family="DejaVu Sans, Liberation Sans, sans-serif">700</text>
<text x="712.4" y="367.7" font-size="10.67" text-anchor="middle" fill="#444" font-family="DejaVu Sans, Liberation Sans, sans-serif">720</text>
<text x="742.1" y="367.7" font-size="10.67" text-anchor="middle" fill="#444" font-family="DejaVu Sans, Liberation Sans, sans-serif">740</text>
<text x="771.8" y="367.7" font-size="10.67" text-anchor="middle" fill="#444" font-family="DejaVu Sans, Liberation Sans, sans-serif">760</text>
<text x="801.4" y="367.7" font-size="10.67" text-anchor="middle" fill="#444" font-family="DejaVu Sans, Liberation Sans, sans-serif">780</text>
<text x="831.1" y="367.7" font-size="10.67" text-anchor="middle" fill="#444" font-family="DejaVu Sans, Liberation Sans, sans-serif">800</text>
<text x="860.8" y="367.7" font-size="10.67" text-anchor="middle" fill="#444" font-family="DejaVu Sans, Liberation Sans, sans-serif">820</text>
<text x="890.5" y="367.7" font-size="10.67" text-anchor="middle" fill="#444" font-family="DejaVu Sans, Liberation Sans, sans-serif">840</text>
<text x="920.1" y="367.7" font-size="10.67" text-anchor="middle" fill="#444" font-family="DejaVu Sans, Liberation Sans, sans-serif">860</text>
<text x="949.8" y="367.7" font-size="10.67" text-anchor="middle" fill="#444" font-family="DejaVu Sans, Liberation Sans, sans-serif">880</text>
<text x="979.5" y="367.7" font-size="10.67" text-anchor="middle" fill="#444" font-family="DejaVu Sans, Liberation Sans, sans-serif">900</text>
<text x="873" y="384.7" font-size="10.67" textLength="106.5" fill="#444" font-family="DejaVu Sans, Liberation Sans, sans-serif">wavelength λ [nm]</text>
<text transform="translate(12,274.2) rotate(-90)" font-size="10.67" textLength="183.5" fill="#444" font-family="DejaVu Sans, Liberation Sans, sans-serif">spectral irradiance [µW/cm²/nm]</text>
<text x="562.2" y="35.2" font-size="13" textLength="236.3" fill="#556b2f" font-family="DejaVu Sans, Liberation Sans, sans-serif">Sun, 42°, UVI 3.7, 116 000 lx (ASTM)</text>
<text x="59" y="289.9" font-size="13" textLength="98.5" fill="#000" font-family="DejaVu Sans, Liberation Sans, sans-serif">Lamp scaled to</text>
<text x="59.4" y="303.1" font-size="13" fill="#000" font-family="DejaVu Sans, Liberation Sans, sans-serif">UVI 0.0</text>
<text x="59.4" y="316.3" font-size="13" fill="#000" font-family="DejaVu Sans, Liberation Sans, sans-serif">23253 lx</text>
<text x="376.3" y="206" font-size="14" letter-spacing="-0.38" fill="#666" font-family="Liberation Mono, DejaVu Sans Mono, monospace">lamps.licht-im-terrarium.de&gt;106</text>
<text x="20" y="390" font-size="14" letter-spacing="-0.4" fill="#000090" font-family="Liberation Mono, DejaVu Sans Mono, monospace">SW-M-12 (Narva Colorplux plus 860 daylight 18W)</text>
</svg>
</body></html>
